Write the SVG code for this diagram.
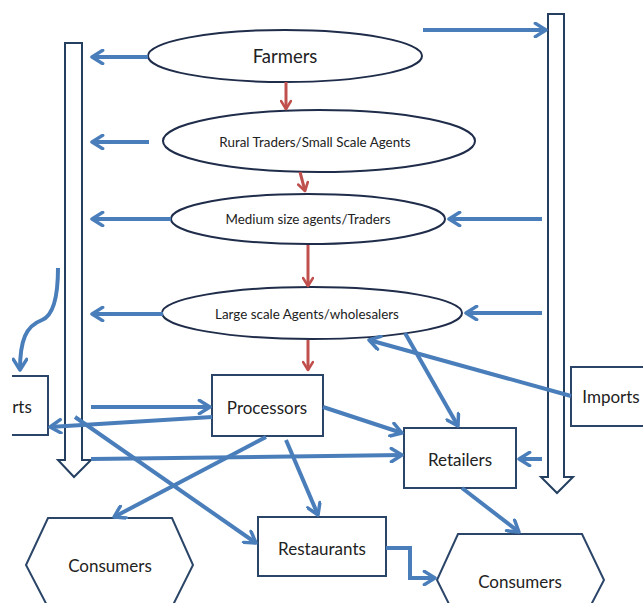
<svg xmlns="http://www.w3.org/2000/svg" width="643" height="603" viewBox="0 0 643 603">
<defs>
<marker id="ab" viewBox="0 0 12 12" refX="10" refY="6" markerWidth="4" markerHeight="4" orient="auto" markerUnits="strokeWidth">
<polyline points="2,1 10,6 2,11" fill="none" stroke="#4a7ebb" stroke-width="2.6" stroke-linecap="round" stroke-linejoin="round"/>
</marker>
<marker id="ar" viewBox="0 0 12 12" refX="10" refY="6" markerWidth="4" markerHeight="4" orient="auto" markerUnits="strokeWidth">
<polyline points="2,1 10,6 2,11" fill="none" stroke="#c0504d" stroke-width="2.6" stroke-linecap="round" stroke-linejoin="round"/>
</marker>
</defs>
<style>
.col{fill:#fff;stroke:#243f60;stroke-width:2}
.ell{fill:#fff;stroke:#1f2d4a;stroke-width:2}
.box{fill:#fff;stroke:#2b4569;stroke-width:2}
.b{fill:none;stroke:#4a7ebb;stroke-width:4;marker-end:url(#ab)}
.r{fill:none;stroke:#c0504d;stroke-width:3;marker-end:url(#ar)}
text{font-family:Lato,"Open Sans","Liberation Sans",sans-serif;fill:#222;text-anchor:middle;dominant-baseline:central}
.s{font-size:13.4px}
.m{font-size:17px}
</style>
<rect width="643" height="603" fill="#fff"/>
<g id="left-column"><polygon class="col" points="65,43 82,43 82,460 91,460 74,477 58,460 65,460"/></g>
<g id="right-column"><polygon class="col" points="548,14 564,14 564,477 573,477 557,493 541,477 548,477"/></g>
<g id="farmers"><ellipse class="ell" cx="285" cy="56" rx="137" ry="26"/><text x="285" y="56" style="font-size:18.5px">Farmers</text></g>
<g id="rural-traders"><ellipse class="ell" cx="319" cy="141" rx="156" ry="31"/><text class="s" x="315" y="142">Rural Traders/Small Scale Agents</text></g>
<g id="medium-agents"><ellipse class="ell" cx="308" cy="219" rx="137" ry="25"/><text class="s" x="308" y="219">Medium size agents/Traders</text></g>
<g id="large-agents"><ellipse class="ell" cx="312" cy="313" rx="150" ry="26"/><text class="s" x="307" y="314">Large scale Agents/wholesalers</text></g>
<g id="processors"><rect class="box" x="212" y="375" width="111" height="61"/><text class="m" x="267" y="407">Processors</text></g>
<g id="retailers"><rect class="box" x="404" y="428" width="112" height="60"/><text class="m" x="460" y="459">Retailers</text></g>
<g id="restaurants"><rect class="box" x="258" y="517" width="128" height="59"/><text class="m" x="322" y="548">Restaurants</text></g>
<g id="exports"><path class="box" d="M12,376 H48 V435 H12"/><text class="m" x="22" y="406">rts</text></g>
<g id="imports"><path class="box" d="M650,367 H571 V426 H650"/><text class="m" x="611" y="396">Imports</text></g>
<g id="consumers-left"><polygon class="box" points="48,518 172,518 193,565 168,615 52,615 26,565"/><text class="m" x="110" y="565">Consumers</text></g>
<g id="consumers-right"><polygon class="box" points="458,534 582,534 604,580 580,626 460,626 437,580"/><text class="m" x="520" y="581">Consumers</text></g>
<g id="connectors">
<line class="r" x1="286" y1="82" x2="286" y2="109"/>
<line class="r" x1="300" y1="172" x2="305" y2="191"/>
<line class="r" x1="308" y1="245" x2="308" y2="286"/>
<line class="r" x1="308" y1="340" x2="308" y2="370"/>
<line class="b" x1="148" y1="57" x2="92" y2="57"/>
<line class="b" x1="149" y1="142" x2="92" y2="142"/>
<line class="b" x1="171" y1="219" x2="92" y2="219"/>
<line class="b" x1="163" y1="314" x2="92" y2="314"/>
<line class="b" x1="423" y1="30" x2="546" y2="30"/>
<line class="b" x1="542" y1="219" x2="449" y2="219"/>
<line class="b" x1="542" y1="313" x2="466" y2="313"/>
<line class="b" x1="571" y1="396" x2="369" y2="340"/>
<line class="b" x1="405" y1="333" x2="458" y2="426"/>
<path class="b" d="M58,268 C58,300 52,316 42,320 C26,326 20,340 20,370"/>
<line class="b" x1="91" y1="407" x2="210" y2="407"/>
<line class="b" x1="212" y1="417" x2="50" y2="427"/>
<line class="b" x1="75" y1="417" x2="256" y2="543"/>
<line class="b" x1="91" y1="459" x2="402" y2="455"/>
<line class="b" x1="323" y1="407" x2="402" y2="433"/>
<line class="b" x1="266" y1="437" x2="114" y2="517"/>
<line class="b" x1="286" y1="440" x2="318" y2="515"/>
<line class="b" x1="542" y1="459" x2="519" y2="459"/>
<line class="b" x1="462" y1="488" x2="519" y2="532"/>
<polyline class="b" points="386,548 410,548 410,578 435,578"/>
</g>
</svg>
